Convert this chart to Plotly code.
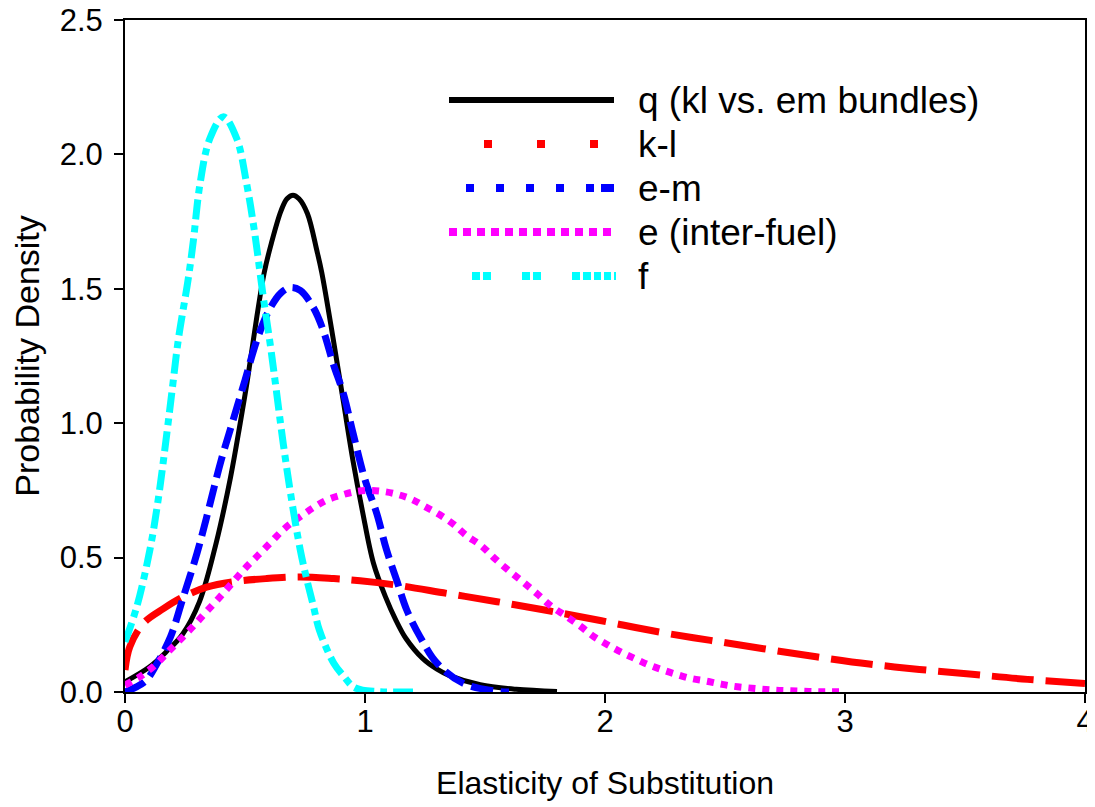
import plotly.graph_objects as go

# ---- data ----
q_x = [0.00, 0.10, 0.17, 0.24, 0.31, 0.38, 0.44, 0.48, 0.51, 0.55, 0.58, 0.61, 0.65, 0.675, 0.70,
       0.725, 0.76, 0.80, 0.82, 0.87, 0.91, 0.95, 0.99, 1.035, 1.085, 1.13, 1.17, 1.24, 1.30, 1.35,
       1.48, 1.63, 1.80]
q_y = [0.038, 0.092, 0.148, 0.215, 0.335, 0.555, 0.80, 1.00, 1.16, 1.40, 1.56, 1.67, 1.79, 1.835, 1.848,
       1.835, 1.78, 1.64, 1.56, 1.30, 1.08, 0.86, 0.67, 0.48, 0.355, 0.265, 0.20, 0.125, 0.085, 0.062,
       0.027, 0.010, 0.002]

kl_x = [0.00, 0.02, 0.076, 0.16, 0.243, 0.34, 0.45, 0.59, 0.73, 0.87, 0.98, 1.13, 1.34, 1.55,
        1.76, 1.98, 2.22, 2.44, 2.66, 2.88, 3.10, 3.31, 3.53, 3.76, 4.00]
kl_y = [0.082, 0.168, 0.255, 0.31, 0.354, 0.39, 0.41, 0.422, 0.428, 0.422, 0.414, 0.398, 0.367, 0.336,
        0.303, 0.266, 0.224, 0.192, 0.161, 0.131, 0.104, 0.084, 0.066, 0.047, 0.032]

em_x = [0.00, 0.05, 0.09, 0.13, 0.19, 0.24, 0.30, 0.34, 0.40, 0.45, 0.50, 0.55, 0.60, 0.65, 0.69,
        0.73, 0.785, 0.826, 0.868, 0.91, 0.951, 1.00, 1.049, 1.09, 1.132, 1.174, 1.229, 1.30, 1.41,
        1.55, 1.60]
em_y = [0.0, 0.02, 0.045, 0.10, 0.206, 0.345, 0.516, 0.65, 0.86, 1.01, 1.16, 1.31, 1.42, 1.485, 1.505,
        1.494, 1.43, 1.345, 1.22, 1.11, 0.96, 0.79, 0.664, 0.528, 0.416, 0.305, 0.206, 0.107, 0.032,
        0.003, 0.0]

e_x = [0.00, 0.0625, 0.125, 0.18, 0.236, 0.29, 0.34, 0.396, 0.449, 0.50, 0.556, 0.611, 0.667, 0.73,
       0.785, 0.84, 0.90, 0.958, 1.02, 1.076, 1.136, 1.194, 1.25, 1.31, 1.37, 1.42, 1.486, 1.54, 1.60,
       1.66, 1.72, 1.775, 1.84, 1.90, 1.95, 2.01, 2.07, 2.13, 2.185, 2.24, 2.30, 2.36, 2.42, 2.48,
       2.53, 2.59, 2.65, 2.71, 2.77, 2.83, 2.89, 2.94, 3.00]
e_y = [0.026, 0.057, 0.10, 0.15, 0.20, 0.25, 0.30, 0.354, 0.408, 0.46, 0.51, 0.56, 0.61, 0.652,
       0.686, 0.714, 0.732, 0.745, 0.75, 0.746, 0.735, 0.717, 0.69, 0.66, 0.623, 0.584, 0.543, 0.497, 0.451,
       0.408, 0.363, 0.32, 0.281, 0.243, 0.208, 0.176, 0.147, 0.122, 0.10, 0.082, 0.065, 0.05, 0.041, 0.03,
       0.022, 0.016, 0.011, 0.007, 0.005, 0.003, 0.001, 0.001, 0.0]

f_x = [0.00, 0.049, 0.104, 0.139, 0.174, 0.20, 0.222, 0.264, 0.285, 0.3125, 0.354, 0.41, 0.465, 0.507,
       0.54, 0.576, 0.604, 0.625, 0.66, 0.695, 0.73, 0.757, 0.785, 0.81, 0.87, 0.91, 0.95, 0.99, 1.05,
       1.10, 1.20]
f_y = [0.187, 0.317, 0.53, 0.72, 0.96, 1.15, 1.31, 1.54, 1.68, 1.89, 2.06, 2.14, 2.06, 1.89,
       1.71, 1.47, 1.30, 1.16, 0.92, 0.71, 0.53, 0.42, 0.32, 0.23, 0.107, 0.06, 0.02, 0.007, 0.002,
       0.0, 0.0]

names = ["q (kl vs. em bundles)", "k-l", "e-m", "e (inter-fuel)", "f"]
colors = ["#000000", "#FF0000", "#0000FF", "#FF00FF", "#00FFFF"]

x_ticks = [0, 1, 2, 3, 4]
y_ticks = [0.0, 0.5, 1.0, 1.5, 2.0, 2.5]

# ---- styling ----
dashes = ["solid", "42px,12px", "22px,8px", "7px,7px", "20px,6px,7px,6px"]
widths = [5, 7, 7, 7, 7]
xs = [q_x, kl_x, em_x, e_x, f_x]
ys = [q_y, kl_y, em_y, e_y, f_y]

FONT = "Arial, 'Liberation Sans', sans-serif"
OFF = 8                      # page body margin around the plot div
W, H = 1095 - OFF, 807 - OFF
ML, MR, MT, MB = 125 - OFF, 10, 20 - OFF, 115
PW, PH = W - ML - MR, H - MT - MB


def px_x(p):                 # page pixel -> paper x
    return (p - OFF - ML) / PW


def px_y(p):                 # page pixel -> paper y
    return (H - MB - (p - OFF)) / PH


fig = go.Figure()
for i in range(5):
    fig.add_trace(go.Scatter(
        x=xs[i], y=ys[i], name=names[i], mode="lines",
        line=dict(color=colors[i], width=widths[i], dash=dashes[i], shape="spline", smoothing=1.0),
        showlegend=False,
    ))

# ---- key drawn as samples + labels (as in the original figure) ----
leg_rows = [100, 144, 188, 232, 276]
leg_samples = [
    [(449, 614, "solid", 6)],
    [(484, 598, "8px,45px", 8)],
    [(466, 596, "8px,22px", 8), (601, 614, "solid", 8)],
    [(449, 612, "8px,6px", 8)],
    [(472, 592, "8px,3px,8px,31px", 8), (594, 616, "7px,3px", 8)],
]
shapes = []
annotations = []
for i, row in enumerate(leg_rows):
    for (a, b, d, w) in leg_samples[i]:
        shapes.append(dict(type="line", xref="paper", yref="paper",
                           x0=px_x(a), x1=px_x(b), y0=px_y(row), y1=px_y(row),
                           line=dict(color=colors[i], width=w, dash=d)))
    annotations.append(dict(xref="paper", yref="paper", x=px_x(636), y=px_y(row),
                            xanchor="left", yanchor="middle", showarrow=False,
                            text=names[i], font=dict(family=FONT, size=37, color="black")))

fig.update_layout(
    width=W, height=H,
    margin=dict(l=ML, r=MR, t=MT, b=MB),
    paper_bgcolor="white", plot_bgcolor="white",
    font=dict(family=FONT, size=31, color="black"),
    showlegend=False,
    shapes=shapes,
    annotations=annotations,
    xaxis=dict(
        range=[0, 4], tickvals=x_ticks, ticktext=[str(v) for v in x_ticks],
        showgrid=False, zeroline=False, showline=True, linecolor="black", linewidth=2, mirror=True,
        ticks="outside", ticklen=9, tickwidth=2, tickcolor="black", automargin=False,
        ticklabelstandoff=-8, ticklabeloverflow="allow",
        tickfont=dict(family=FONT, size=31),
        title=dict(text="Elasticity of Substitution", font=dict(family=FONT, size=32), standoff=33),
    ),
    yaxis=dict(
        range=[0, 2.5], tickvals=y_ticks, ticktext=[f"{v:.1f}" for v in y_ticks],
        showgrid=False, zeroline=False, showline=True, linecolor="black", linewidth=2, mirror=True,
        ticks="outside", ticklen=9, tickwidth=2, tickcolor="black", automargin=False,
        ticklabelstandoff=5, ticklabeloverflow="allow",
        tickfont=dict(family=FONT, size=31),
        title=dict(text="Probability Density", font=dict(family=FONT, size=34), standoff=11),
    ),
)

fig.write_html("out.html")
